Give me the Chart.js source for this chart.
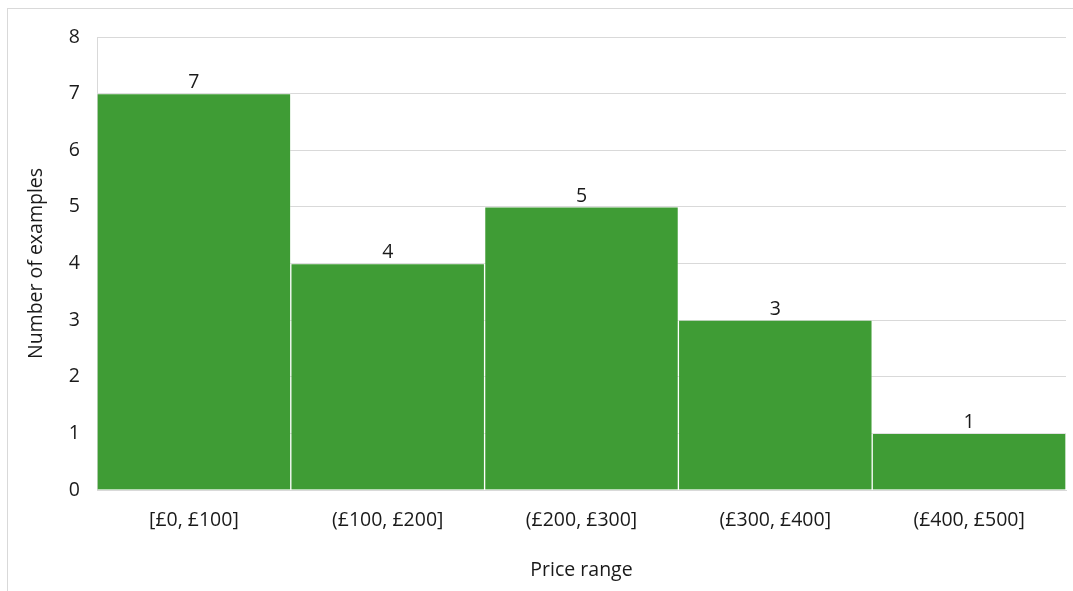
<!DOCTYPE html>
<html>
<head>
<meta charset="utf-8">
<script src="https://cdn.jsdelivr.net/npm/chart.js@4/dist/chart.umd.min.js"></script>
<style>
  html, body { margin: 0; padding: 0; background: #fff; }
  #wrap { position: relative; width: 1073px; height: 591px; }
  #frame {
    position: absolute; left: 7px; top: 8px; width: 1080px; height: 600px;
    border: 1px solid #d9d9d9; box-sizing: border-box; pointer-events: none;
  }
  canvas { position: absolute; left: 0; top: 0; }
</style>
</head>
<body>
<div id="wrap">
  <canvas id="chart" width="1073" height="591"></canvas>
  <div id="frame"></div>
</div>
<script>
const categories = ["[£0, £100]", "(£100, £200]", "(£200, £300]", "(£300, £400]", "(£400, £500]"];
const counts = [7, 4, 5, 3, 1];
const yTicks = [0, 1, 2, 3, 4, 5, 6, 7, 8];

const fontFamily = "'Open Sans', 'Noto Sans', sans-serif";
const fontSize = 19.5;
const textColor = "#1a1a1a";

// value labels above each bar
const barLabels = {
  id: "barLabels",
  afterDatasetsDraw(chart) {
    const ctx = chart.ctx;
    const meta = chart.getDatasetMeta(0);
    ctx.save();
    ctx.font = fontSize + "px " + fontFamily;
    ctx.fillStyle = textColor;
    ctx.textAlign = "center";
    ctx.textBaseline = "bottom";
    meta.data.forEach(function (bar, i) {
      ctx.fillText(String(counts[i]), bar.x, bar.y - 1);
    });
    ctx.restore();
  }
};

new Chart(document.getElementById("chart"), {
  type: "bar",
  data: {
    labels: categories,
    datasets: [{
      data: counts,
      backgroundColor: "#3f9c35",
      borderColor: "rgba(255,255,255,0.25)",
      borderWidth: 1,
      categoryPercentage: 1,
      barPercentage: 1
    }]
  },
  options: {
    responsive: false,
    animation: false,
    layout: { padding: { top: 37, right: 7, left: 0, bottom: 0 } },
    plugins: {
      legend: { display: false },
      tooltip: { enabled: false }
    },
    scales: {
      x: {
        grid: { display: false, drawTicks: false },
        border: { color: "#d9d9d9" },
        ticks: { color: textColor, font: { family: fontFamily, size: fontSize }, padding: 19, maxRotation: 0 },
        title: {
          display: true, text: "Price range", color: textColor,
          font: { family: fontFamily, size: fontSize }, padding: { top: 0, bottom: 9 }
        },
        afterFit(scale) { scale.height = 101; }
      },
      y: {
        min: 0, max: 8,
        afterBuildTicks(scale) { scale.ticks = yTicks.map(v => ({ value: v })); },
        grid: { color: "#d9d9d9", drawTicks: false },
        border: { color: "#d9d9d9" },
        ticks: { color: textColor, font: { family: fontFamily, size: fontSize }, padding: 17 },
        title: {
          display: true, text: "Number of examples", color: textColor,
          font: { family: fontFamily, size: fontSize }, padding: { top: 25, bottom: 0 }
        },
        afterFit(scale) { scale.width = 97; }
      }
    }
  },
  plugins: [barLabels]
});
</script>
</body>
</html>
